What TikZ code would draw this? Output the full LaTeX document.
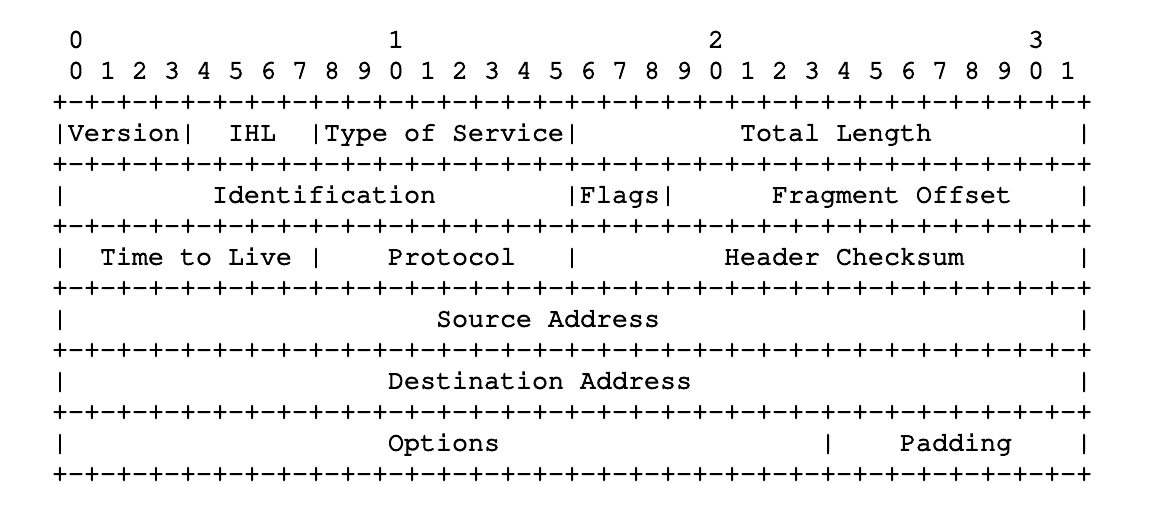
\documentclass[tikz,border=0pt]{standalone}
\usepackage[T1]{fontenc}
\usepackage{courier}
% fill-and-stroke text rendering for a slightly heavier typewriter face
\newcommand\heavytext{\special{pdf:literal 2 Tr 0.9 w}}
\begin{document}
% One character cell is 16pt wide, one text line 31pt high.
% Origin: left edge of column 0, baseline of the first line.
\begin{tikzpicture}[x=16pt,y=-31pt,
  txt/.style={anchor=base west,inner sep=0pt,outer sep=0pt,
    font=\fontsize{26.67}{31}\selectfont\ttfamily\frenchspacing\heavytext}]
\useasboundingbox[fill=white] (-52pt,47.5pt) rectangle (1114pt,-464.5pt);

% bit numbering: tens and units
\node[txt] (ten0) at (1,0) {0};
\node[txt] (ten1) at (21,0) {1};
\node[txt] (ten2) at (41,0) {2};
\node[txt] (ten3) at (61,0) {3};
\foreach \i in {0,...,31}{
  \pgfmathtruncatemacro\d{mod(\i,10)}
  \node[txt] (bit\i) at ({2*\i+1},1) {\d};
}

% rulers between the header words
\foreach \r in {2,4,...,14}{
  \node[txt] (rule\r) at (0,\r) {+-+-+-+-+-+-+-+-+-+-+-+-+-+-+-+-+-+-+-+-+-+-+-+-+-+-+-+-+-+-+-+-+};
}

% field separators: row / column pairs
\foreach \r/\c [count=\k] in {3/0,3/8,3/16,3/32,3/64,
                              5/0,5/32,5/38,5/64,
                              7/0,7/16,7/32,7/64,
                              9/0,9/64,
                              11/0,11/64,
                              13/0,13/48,13/64}{
  \node[txt] (bar\k) at (\c,\r) {|};
}

% field names
\node[txt] (version)  at (1,3)  {Version};
\node[txt] (ihl)      at (11,3) {IHL};
\node[txt] (tos)      at (17,3) {Type of Service};
\node[txt] (totlen)   at (43,3) {Total Length};
\node[txt] (ident)    at (10,5) {Identification};
\node[txt] (flags)    at (33,5) {Flags};
\node[txt] (fragoff)  at (45,5) {Fragment Offset};
\node[txt] (ttl)      at (3,7)  {Time to Live};
\node[txt] (proto)    at (21,7) {Protocol};
\node[txt] (checksum) at (42,7) {Header Checksum};
\node[txt] (src)      at (24,9) {Source Address};
\node[txt] (dst)      at (21,11) {Destination Address};
\node[txt] (options)  at (21,13) {Options};
\node[txt] (padding)  at (53,13) {Padding};
\end{tikzpicture}
\end{document}
